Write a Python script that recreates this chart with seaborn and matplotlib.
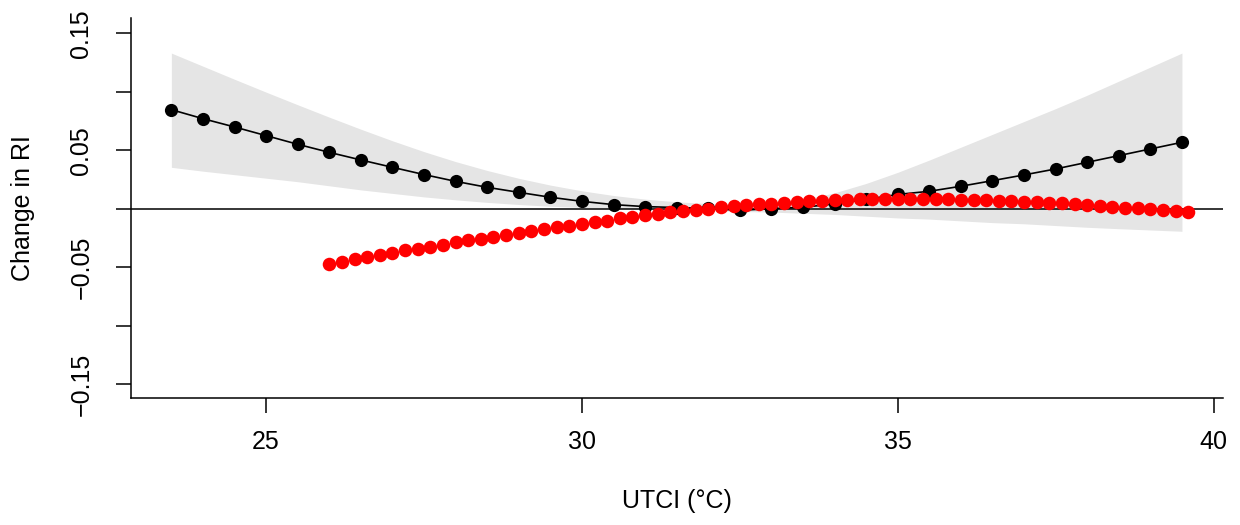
import matplotlib
matplotlib.use("Agg")
import matplotlib.pyplot as plt
import seaborn as sns
import pandas as pd

# === DATA ===
UTCI_MAIN = [23.5, 24.0, 24.5, 25.0, 25.5, 26.0, 26.5, 27.0, 27.5, 28.0, 28.5,
             29.0, 29.5, 30.0, 30.5, 31.0, 31.5, 32.0, 32.5, 33.0, 33.5, 34.0,
             34.5, 35.0, 35.5, 36.0, 36.5, 37.0, 37.5, 38.0, 38.5, 39.0, 39.5]
RI_MAIN = [0.0846, 0.0769, 0.0698, 0.0624, 0.0550, 0.0481, 0.0416, 0.0353,
           0.0291, 0.0233, 0.0182, 0.0139, 0.0097, 0.0062, 0.0034, 0.0017,
           0.0009, 0.0002, -0.0015, 0.0000, 0.0011, 0.0040, 0.0078, 0.0121,
           0.0148, 0.0191, 0.0239, 0.0288, 0.0339, 0.0396, 0.0453, 0.0510, 0.0567]
CI_UPPER = [0.133, 0.1218, 0.1106, 0.0996, 0.0888, 0.0782, 0.0679, 0.058,
            0.0487, 0.0402, 0.0326, 0.0259, 0.0201, 0.0152, 0.0112, 0.0081,
            0.0058, 0.0043, 0.0036, 0.004, 0.0075, 0.0135, 0.0215, 0.031,
            0.0415, 0.0525, 0.0635, 0.0745, 0.0855, 0.097, 0.109, 0.121, 0.133]
CI_LOWER = [0.0353, 0.032, 0.029, 0.026, 0.023, 0.0195, 0.016, 0.013, 0.010,
            0.0075, 0.0053, 0.0035, 0.002, 0.001, 0.0002, -0.0004, -0.001,
            -0.0016, -0.0025, -0.003, -0.004, -0.005, -0.0065, -0.008, -0.009,
            -0.0105, -0.012, -0.013, -0.0145, -0.016, -0.0172, -0.0183, -0.0194]

UTCI_FINE = [26.0, 26.2, 26.4, 26.6, 26.8, 27.0, 27.2, 27.4, 27.6, 27.8,
             28.0, 28.2, 28.4, 28.6, 28.8, 29.0, 29.2, 29.4, 29.6, 29.8,
             30.0, 30.2, 30.4, 30.6, 30.8, 31.0, 31.2, 31.4, 31.6, 31.8,
             32.0, 32.2, 32.4, 32.6, 32.8, 33.0, 33.2, 33.4, 33.6, 33.8,
             34.0, 34.2, 34.4, 34.6, 34.8, 35.0, 35.2, 35.4, 35.6, 35.8,
             36.0, 36.2, 36.4, 36.6, 36.8, 37.0, 37.2, 37.4, 37.6, 37.8,
             38.0, 38.2, 38.4, 38.6, 38.8, 39.0, 39.2, 39.4, 39.6]
RI_FINE = [-0.0470, -0.0453, -0.0433, -0.0416, -0.0396, -0.0376, -0.0356,
           -0.0342, -0.0325, -0.0308, -0.0288, -0.0271, -0.0256, -0.0239,
           -0.0222, -0.0205, -0.0188, -0.0174, -0.0160, -0.0145, -0.0128,
           -0.0114, -0.0103, -0.0083, -0.0068, -0.0055, -0.0044, -0.0032,
           -0.0021, -0.0009, 0.0000, 0.0011, 0.0020, 0.0028, 0.0035, 0.0043,
           0.0049, 0.0056, 0.0062, 0.0068, 0.0073, 0.0077, 0.0079, 0.0081,
           0.0083, 0.0085, 0.0085, 0.0085, 0.0082, 0.0079, 0.0077, 0.0074,
           0.0071, 0.0068, 0.0062, 0.0060, 0.0056, 0.0051, 0.0045, 0.0039,
           0.0034, 0.0024, 0.0017, 0.0009, 0.0003, -0.0006, -0.0015, -0.0023,
           -0.0029]

X_TICKS = [25, 30, 35, 40]
Y_TICKS = [-0.15, -0.10, -0.05, 0.0, 0.05, 0.10, 0.15]
Y_TICK_LABELS = ["\u22120.15", "", "\u22120.05", "", "0.05", "", "0.15"]


def make_plot():
    sns.set_style("ticks")
    plt.rcParams["font.family"] = ["Liberation Sans", "DejaVu Sans"]
    plt.rcParams["text.color"] = "black"
    plt.rcParams["axes.labelcolor"] = "black"

    main = pd.DataFrame({"utci": UTCI_MAIN, "ri": RI_MAIN,
                         "lo": CI_LOWER, "hi": CI_UPPER})
    fine = pd.DataFrame({"utci": UTCI_FINE, "ri": RI_FINE})

    fig = plt.figure(figsize=(12.4, 5.25), dpi=100)
    ax = fig.add_axes([0.1056, 0.2419, 0.8807, 0.7238])

    # confidence band
    ax.fill_between(main["utci"], main["lo"], main["hi"],
                    color="#e5e5e5", linewidth=0, zorder=1)
    ax.axhline(0, color="black", linewidth=1.1, zorder=2)

    sns.lineplot(data=main, x="utci", y="ri", ax=ax, color="black",
                 linewidth=1.2, marker="o", markersize=9.5,
                 markeredgewidth=0, zorder=3)
    sns.scatterplot(data=fine, x="utci", y="ri", ax=ax, color="red",
                    s=95, linewidth=0, zorder=4)

    ax.set_xlim(22.86, 40.15)
    ax.set_ylim(-0.162, 0.163)
    ax.set_xticks(X_TICKS)
    ax.set_xticklabels([str(t) for t in X_TICKS])
    ax.set_yticks(Y_TICKS)
    ax.set_yticklabels(Y_TICK_LABELS, rotation=90, va="center")

    ax.tick_params(axis="both", labelsize=18, length=11, width=1.1,
                   color="black", labelcolor="black")
    ax.tick_params(axis="x", pad=12)
    ax.tick_params(axis="y", pad=16)

    sns.despine(ax=ax)
    for side in ("left", "bottom"):
        ax.spines[side].set_linewidth(1.1)
        ax.spines[side].set_color("black")

    ax.set_xlabel("UTCI (\u00b0C)", fontsize=18, color="black")
    ax.set_ylabel("Change in RI", fontsize=18, color="black")
    ax.xaxis.set_label_coords(0.5, -0.24)
    ax.yaxis.set_label_coords(-0.088, 0.5)

    fig.savefig("out.png", dpi=100)
    plt.close(fig)


if __name__ == "__main__":
    make_plot()
